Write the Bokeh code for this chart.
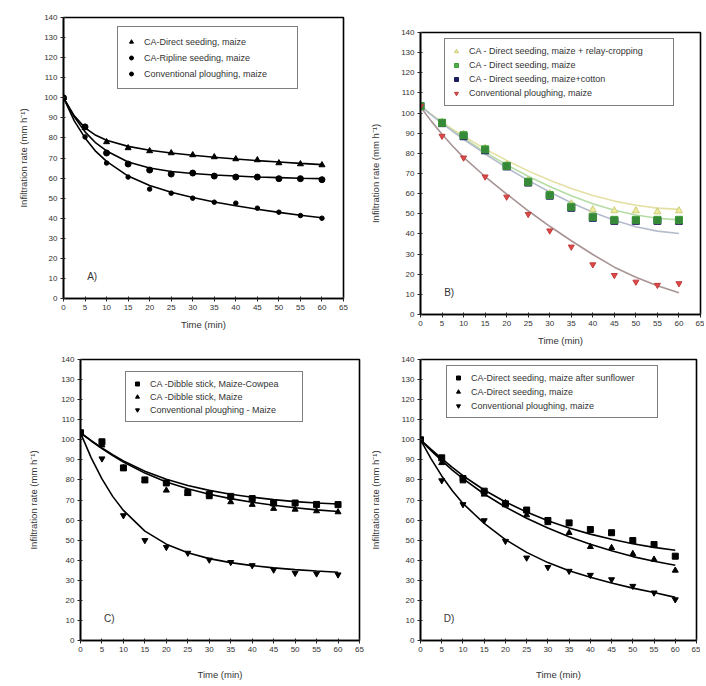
from bokeh.plotting import figure
from bokeh.models import Range1d, FixedTicker, Legend, LegendItem, Label, Spacer
from bokeh.layouts import column, row
from bokeh.embed import file_html
from bokeh.resources import INLINE

FONT = "Liberation Sans"

# ---------------- data ----------------
t = [0, 5, 10, 15, 20, 25, 30, 35, 40, 45, 50, 55, 60]
t_fit = [0, 2.5, 5, 7.5, 10, 15, 20, 25, 30, 35, 40, 45, 50, 55, 60]
x_ticks = [0, 5, 10, 15, 20, 25, 30, 35, 40, 45, 50, 55, 60, 65]
y_ticks = [0, 10, 20, 30, 40, 50, 60, 70, 80, 90, 100, 110, 120, 130, 140]

# Panel A
a_labels = ["CA-Direct seeding, maize", "CA-Ripline seeding, maize", "Conventional ploughing, maize"]
a_direct = [100, 85, 78, 75, 73.5, 72.5, 71.5, 70.5, 69.5, 69, 67.5, 67, 66.5]
a_ripline = [100, 85.5, 72.5, 67, 64, 62, 62.5, 61, 60.5, 60.5, 59.7, 59.7, 59.2]
a_conv = [100, 80.5, 67.5, 60.5, 54.5, 52.5, 50, 48, 47.5, 45, 43, 41.3, 40]
a_direct_fit = [100, 91, 85, 81.3, 78.8, 75.8, 73.9, 72.5, 71.4, 70.4, 69.5, 68.7, 68, 67.3, 66.7]
a_ripline_fit = [100, 90.5, 83, 77.5, 73.5, 68, 65, 63.3, 62.3, 61.5, 61, 60.5, 60.2, 59.9, 59.7]
a_conv_fit = [100, 88.5, 80, 73.3, 68.3, 61, 56.3, 52.9, 50.3, 48.1, 46.2, 44.5, 42.9, 41.5, 40.2]

# Panel B
b_labels = ["CA - Direct seeding, maize + relay-cropping", "CA - Direct seeding, maize",
            "CA - Direct seeding, maize+cotton", "Conventional ploughing, maize"]
b_yellow = [103.5, 95.5, 89.5, 82.5, 74.5, 66.5, 60, 55, 52, 51.5, 51.5, 51, 51.5]
b_green = [103.5, 95.2, 89, 82, 73.8, 65.9, 59.3, 53.5, 48.5, 47, 47, 47, 47]
b_navy = [103.5, 95, 88.5, 81.5, 73.5, 65.5, 59, 53, 48, 46.5, 46.5, 46.5, 46.5]
b_red = [103.5, 88.6, 77.8, 68.4, 58.4, 49.8, 41.6, 33.6, 24.8, 19.5, 16.2, 14.6, 15.4]
b_yellow_fit = [103.5, 99.3, 95.5, 91.9, 88.5, 82.2, 76.5, 71.3, 66.7, 62.6, 59.1, 56.3, 54.2, 52.8, 52.2]
b_green_fit = [103.5, 99.2, 95.1, 91.2, 87.5, 80.6, 74.3, 68.6, 63.5, 59, 55, 51.8, 49.4, 47.8, 47]
b_navy_fit = [103.5, 99.1, 94.9, 90.9, 87, 79.7, 72.9, 66.6, 60.8, 55.5, 50.8, 46.8, 43.6, 41.4, 40.2]
b_red_fit = [103, 96, 89.5, 83.5, 78, 68.5, 59.8, 51.5, 43.8, 36.6, 29.8, 23.5, 18.5, 14.3, 10.8]

# Panel C
c_labels = ["CA -Dibble stick, Maize-Cowpea", "CA -Dibble stick, Maize", "Conventional ploughing - Maize"]
c_cowpea = [103.5, 99, 86, 80, 78.5, 73.7, 72.7, 71.8, 70.7, 68.5, 68.5, 67.8, 67.7]
c_maize = [103.5, 97.3, 86, 79.8, 74.8, 73.2, 71.5, 69, 67.7, 65.7, 65.3, 64.5, 64]
c_conv = [103.5, 90.6, 62.3, 49.9, 46.5, 43.6, 40.2, 39, 37.4, 35.2, 33.6, 33.3, 32.8]
c_cowpea_fit = [103.5, 99.6, 96, 92.6, 89.5, 84.3, 80.3, 77.2, 74.8, 72.9, 71.4, 70.2, 69.2, 68.5, 68]
c_maize_fit = [103.5, 99.4, 95.6, 92.1, 88.9, 83.4, 79, 75.6, 72.9, 70.7, 68.9, 67.4, 66.1, 65.1, 64.3]
c_conv_fit = [103.5, 91, 80.5, 71.8, 64.8, 54.5, 48, 43.7, 40.8, 38.8, 37.3, 36.2, 35.3, 34.6, 34]

# Panel D
d_labels = ["CA-Direct seeding, maize after sunflower", "CA-Direct seeding, maize", "Conventional ploughing, maize"]
d_sun = [100, 91, 80.7, 74.4, 68.1, 65, 59.8, 58.6, 55.3, 53.7, 49.8, 47.8, 42]
d_maize = [100, 88.5, 79.4, 72.8, 68.6, 62.5, 58.6, 53.7, 46.7, 46.2, 43.2, 40.4, 34.9]
d_conv = [100, 79.7, 67.8, 59.8, 49.5, 41.2, 36.5, 34.6, 32.6, 30.4, 27.1, 23.8, 20.4]
d_sun_fit = [100, 95.2, 90.6, 86.2, 82.1, 75, 69, 64, 59.7, 56, 53, 50.4, 48.2, 46.4, 45]
d_maize_fit = [100, 94.6, 89.6, 84.9, 80.6, 73, 66.5, 60.9, 56, 51.7, 48, 44.7, 41.8, 39.5, 37.5]
d_conv_fit = [100, 90.5, 82, 74.6, 68.3, 58.3, 50.3, 43.9, 38.8, 34.8, 31.5, 28.6, 26.1, 23.9, 21.5]

YLABEL = "Infiltration rate (mm h\u207b\u00b9)"
XLABEL = "Time (min)"


def make_fig(width, height, bl, br, bt, bb, ylab_standoff, xlab_standoff):
    p = figure(width=width, height=height, output_backend="svg", toolbar_location=None,
               x_range=Range1d(0, 65), y_range=Range1d(0, 140),
               min_border_left=bl, min_border_right=br, min_border_top=bt, min_border_bottom=bb)
    p.grid.visible = False
    p.outline_line_color = "black"
    p.outline_line_width = 1.6
    p.background_fill_color = "white"
    p.border_fill_color = "white"
    p.xaxis.ticker = FixedTicker(ticks=x_ticks)
    p.yaxis.ticker = FixedTicker(ticks=y_ticks)
    for ax in (p.xaxis[0], p.yaxis[0]):
        ax.axis_line_width = 1.6
        ax.axis_line_color = "black"
        ax.major_tick_in = 2
        ax.major_tick_out = 3
        ax.major_tick_line_color = "#222222"
        ax.minor_tick_line_color = None
        ax.major_label_text_font = FONT
        ax.major_label_text_font_size = "8px"
        ax.major_label_text_color = "#333333"
        ax.axis_label_text_font = FONT
        ax.axis_label_text_font_size = "9.5px"
        ax.axis_label_text_font_style = "normal"
        ax.axis_label_text_color = "#333333"
        ax.major_label_standoff = 3
    p.xaxis.axis_label = XLABEL
    p.xaxis.axis_label_standoff = xlab_standoff
    p.yaxis.axis_label = YLABEL
    p.yaxis.axis_label_standoff = ylab_standoff
    return p


def add_legend(p, items, loc, label_width, label_height, spacing, padding):
    leg = Legend(items=[LegendItem(label=l, renderers=[r]) for l, r in items],
                 location=loc, label_text_font=FONT, label_text_font_size="9px",
                 label_text_color="#333333", label_width=label_width,
                 label_height=label_height, glyph_height=label_height, glyph_width=10,
                 label_standoff=8, spacing=spacing, padding=padding, margin=0,
                 border_line_color="black", border_line_width=1.6,
                 background_fill_color="white", background_fill_alpha=1)
    p.add_layout(leg)


def panel_label(p, txt):
    p.add_layout(Label(x=5.5, y=11, text=txt, text_font=FONT, text_font_size="10px",
                       text_color="#333333", text_baseline="middle"))


# ---------------- A ----------------
pa = make_fig(363, 354, 63, 20, 17, 56, 12, 6)
for fit in (a_direct_fit, a_ripline_fit, a_conv_fit):
    pa.line(t_fit, fit, line_color="black", line_width=1.6)
ra1 = pa.scatter(t, a_direct, marker="triangle", size=6, color="black")
ra2 = pa.scatter(t, a_ripline, marker="circle", size=6, color="black")
ra3 = pa.scatter(t, a_conv, marker="circle", size=4.5, color="black")
add_legend(pa, list(zip(a_labels, [ra1, ra2, ra3])), (54, 209), 145, 13, 3, 8)
panel_label(pa, "A)")

# ---------------- B ----------------
pb = make_fig(341, 339, 57, 4, 17, 40, 17, 6)
pb.line(t_fit, b_yellow_fit, line_color="#e4e0a4", line_width=1.6)
pb.line(t_fit, b_green_fit, line_color="#b4dca4", line_width=1.6)
pb.line(t_fit, b_navy_fit, line_color="#b4bccc", line_width=1.6)
pb.line(t_fit, b_red_fit, line_color="#a89494", line_width=1.6)
rb1 = pb.scatter(t, b_yellow, marker="triangle", size=7, fill_color="#ecec9c", line_color="#cccc78")
rb3 = pb.scatter(t, b_navy, marker="square", size=7, fill_color="#1c1c5c", line_color="#1c1c5c")
rb2 = pb.scatter(t, b_green, marker="square", size=7, fill_color="#3c9c34", line_color="#3c9c34",
                 fill_alpha=0.85)
rb4 = pb.scatter(t, b_red, marker="inverted_triangle", size=6, fill_color="#e04848", line_color="#c03c3c")
add_legend(pb, list(zip(b_labels, [rb1, rb2, rb3, rb4])), (24, 208), 198, 12, 2, 6)
panel_label(pb, "B)")

# ---------------- C ----------------
pc = make_fig(365, 332, 80, 6, 5, 46, 19, 14)
for fit in (c_cowpea_fit, c_maize_fit, c_conv_fit):
    pc.line(t_fit, fit, line_color="black", line_width=1.6)
rc1 = pc.scatter(t, c_cowpea, marker="square", size=6, color="black")
rc2 = pc.scatter(t, c_maize, marker="triangle", size=6, color="black")
rc3 = pc.scatter(t, c_conv, marker="inverted_triangle", size=6, color="black")
add_legend(pc, list(zip(c_labels, [rc1, rc2, rc3])), (45, 218), 146, 11, 2, 6)
panel_label(pc, "C)")

# ---------------- D ----------------
pd_ = make_fig(335, 332, 55, 4, 5, 46, 17, 14)
for fit in (d_sun_fit, d_maize_fit, d_conv_fit):
    pd_.line(t_fit, fit, line_color="black", line_width=1.6)
rd1 = pd_.scatter(t, d_sun, marker="square", size=6, color="black")
rd2 = pd_.scatter(t, d_maize, marker="triangle", size=6, color="black")
rd3 = pd_.scatter(t, d_conv, marker="inverted_triangle", size=6, color="black")
add_legend(pd_, list(zip(d_labels, [rd1, rd2, rd3])), (26, 222), 180, 11, 3, 6)
panel_label(pd_, "D)")

layout = column(row(pa, column(Spacer(width=341, height=15), pb)), row(pc, pd_))

open("out.html", "w").write(file_html(layout, INLINE))
